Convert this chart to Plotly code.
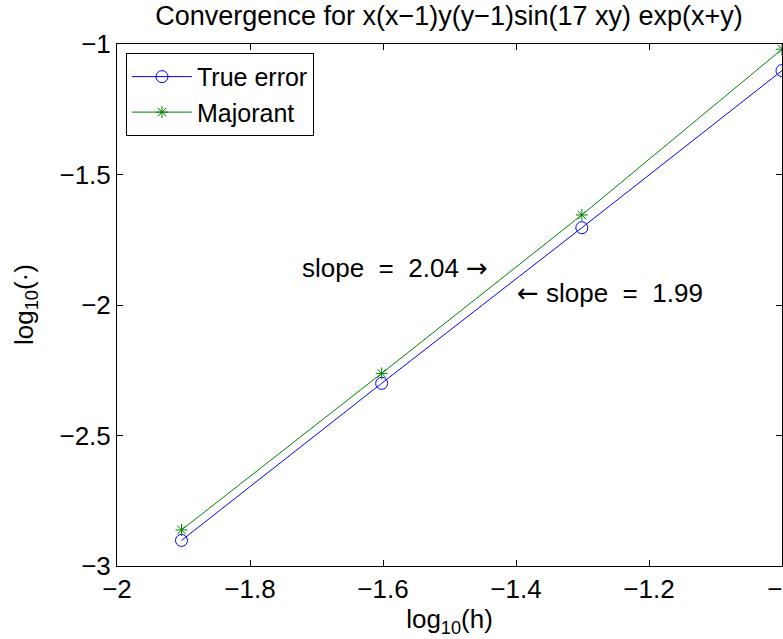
import plotly.graph_objects as go

# data (log10 scale values)
log_h = [-1.903, -1.602, -1.301, -1.0]
true_error = [-2.902, -2.300, -1.704, -1.102]
majorant = [-2.862, -2.262, -1.655, -1.020]

x_ticks = [-2, -1.8, -1.6, -1.4, -1.2, -1]
y_ticks = [-3, -2.5, -2, -1.5, -1]

FONT = "Liberation Sans, Arial, Helvetica, sans-serif"
FS = 26

fig = go.Figure()
fig.add_trace(go.Scatter(
    x=log_h, y=true_error, mode="lines+markers", name="True error",
    line=dict(color="rgb(0,0,255)", width=1),
    marker=dict(symbol="circle-open", size=12, color="rgb(0,0,255)", line=dict(width=1)),
    cliponaxis=False,
))
fig.add_trace(go.Scatter(
    x=log_h, y=majorant, mode="lines+markers", name="Majorant",
    line=dict(color="rgb(0,128,0)", width=1),
    marker=dict(symbol="asterisk-open", size=10, color="rgb(0,128,0)", line=dict(width=1, color="rgb(0,128,0)")),
    cliponaxis=False,
))

nb = "\u00a0"
arr_r = '<span style="font-family:DejaVu Sans">\u2192</span>'
arr_l = '<span style="font-family:DejaVu Sans">\u2190</span>'
fig.add_annotation(x=-1.725, y=-1.858, xref="x", yref="y", xanchor="left", yanchor="middle",
                   text=f"slope{nb}{nb}={nb}{nb}2.04{nb}{arr_r}", showarrow=False,
                   font=dict(family=FONT, size=FS, color="black"))
fig.add_annotation(x=-1.4015, y=-1.954, xref="x", yref="y", xanchor="left", yanchor="middle",
                   text=f"{arr_l}{nb}slope{nb}{nb}={nb}{nb}1.99", showarrow=False,
                   font=dict(family=FONT, size=FS, color="black"))
# y-axis title
fig.add_annotation(x=-0.1383, y=0.5, xref="paper", yref="paper", xanchor="center", yanchor="middle",
                   text="log<sub>10</sub>(\u00b7)", textangle=-90, showarrow=False,
                   font=dict(family=FONT, size=FS, color="black"))

fig.update_layout(
    width=783, height=639,
    margin=dict(l=117, r=1, t=44, b=73, autoexpand=False),
    paper_bgcolor="white", plot_bgcolor="white",
    font=dict(family=FONT, size=FS, color="black"),
    title=dict(text="Convergence for x(x\u22121)y(y\u22121)sin(17 xy) exp(x+y)",
               x=0.5735, xanchor="center", y=0.975, yanchor="middle",
               font=dict(family=FONT, size=27, color="black"), automargin=False),
    showlegend=True,
    legend=dict(x=0.0135, y=0.983, xanchor="left", yanchor="top",
                bgcolor="white", bordercolor="black", borderwidth=1,
                font=dict(family=FONT, size=25, color="black"),
                itemwidth=60, tracegroupgap=0),
    xaxis=dict(range=[-2, -1], tickvals=x_ticks, ticks="inside", ticklen=6,
               tickcolor="black", showline=True, linecolor="black", linewidth=1,
               mirror="ticks", showgrid=False, zeroline=False, automargin=False,
               ticklabeloverflow="allow",
               tickfont=dict(family=FONT, size=FS, color="black"),
               title=dict(text="log<sub>10</sub>(h)", standoff=0,
                          font=dict(family=FONT, size=FS, color="black"))),
    yaxis=dict(range=[-3, -1], tickvals=y_ticks, ticks="inside", ticklen=6,
               tickcolor="black", showline=True, linecolor="black", linewidth=1,
               mirror="ticks", showgrid=False, zeroline=False, automargin=False,
               ticklabeloverflow="allow",
               tickfont=dict(family=FONT, size=FS, color="black")),
)

fig.write_html("out.html", config={"displayModeBar": False},
               post_script="document.body.style.margin='0';document.body.style.overflow='hidden';")
